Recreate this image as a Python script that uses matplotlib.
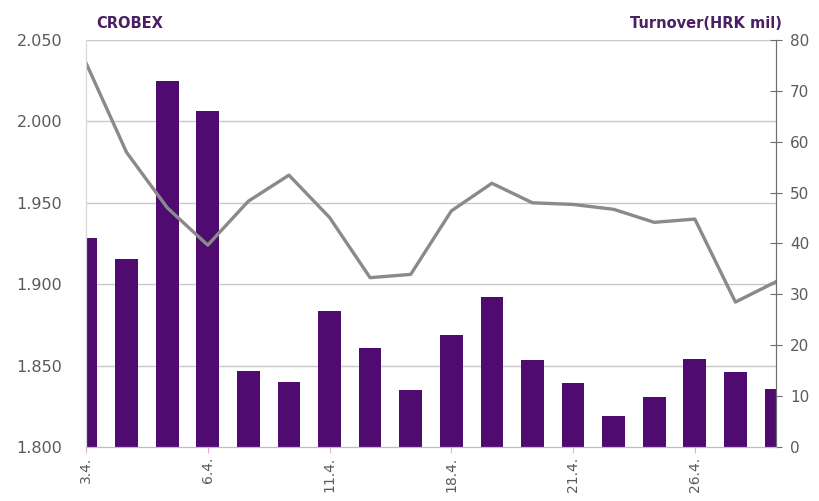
import numpy as np
import matplotlib
matplotlib.use("Agg")
import matplotlib.pyplot as plt

# trading days, April
dates = ["3.4.", "4.4.", "5.4.", "6.4.", "7.4.", "10.4.", "11.4.", "12.4.", "13.4.",
         "18.4.", "19.4.", "20.4.", "21.4.", "24.4.", "25.4.", "26.4.", "27.4.", "28.4."]
shown_labels = ["3.4.", "6.4.", "11.4.", "18.4.", "21.4.", "26.4."]

turnover = [41, 37, 72, 66, 15, 12.7, 26.7, 19.5, 11.1,
            22, 29.5, 17, 12.6, 6, 9.9, 17.2, 14.7, 11.3]
crobex = [2.036, 1.981, 1.947, 1.924, 1.951, 1.967, 1.941, 1.904, 1.906,
          1.945, 1.962, 1.950, 1.949, 1.946, 1.938, 1.940, 1.889, 1.9015]

crobex_ticks = [1.80, 1.85, 1.90, 1.95, 2.00, 2.05]
turnover_ticks = [0, 10, 20, 30, 40, 50, 60, 70, 80]

bar_col = "#4f0b6f"
line_col = "#8a8a8a"
txt_col = "#5a5a5a"
title_col = "#4a1f63"

x = np.arange(len(dates))

fig = plt.figure(figsize=(8.19, 5.01), dpi=100)
axb = fig.add_axes([0.105, 0.108, 0.8425, 0.812])
axl = axb.twinx()

# gridlines at CROBEX ticks, drawn behind bars
for t in crobex_ticks[1:]:
    axb.axhline(np.interp(t, [1.80, 2.05], [0, 80]), color="#c8c8c8", lw=1.0, zorder=0)

axb.bar(x, turnover, width=0.56, color=bar_col, zorder=2)
axb.set_ylim(0, 80)
axb.set_xlim(0, len(dates) - 1)
axb.yaxis.tick_right()
axb.set_yticks(turnover_ticks)
axb.tick_params(axis="y", direction="inout", length=8, color="#6e6e6e",
                labelcolor=txt_col, labelsize=11, pad=6)

axl.plot(x, crobex, color=line_col, lw=2.4)
axl.set_ylim(1.80, 2.05)
axl.yaxis.tick_left()
axl.set_yticks(crobex_ticks)
axl.set_yticklabels([f"{t:.3f}" for t in crobex_ticks])
axl.tick_params(axis="y", length=0, labelcolor=txt_col, labelsize=11.5, pad=17)

label_pos = [dates.index(d) for d in shown_labels]
axb.set_xticks(label_pos)
axb.set_xticklabels(shown_labels, rotation=90, color=txt_col, fontsize=10)
axb.tick_params(axis="x", length=4, color="#e0b0e0", pad=3)

for a in (axb, axl):
    a.spines["top"].set_visible(False)
    a.spines["left"].set_color("#d8d8d8")
    a.spines["right"].set_color("#6e6e6e")
    a.spines["bottom"].set_color("#bdbdbd")

fig.text(0.118, 0.945, "CROBEX", color=title_col, fontsize=10.5, fontweight="bold")
fig.text(0.955, 0.945, "Turnover(HRK mil)", color=title_col, fontsize=10.5,
         fontweight="bold", ha="right")

fig.savefig("out.png", dpi=100)
